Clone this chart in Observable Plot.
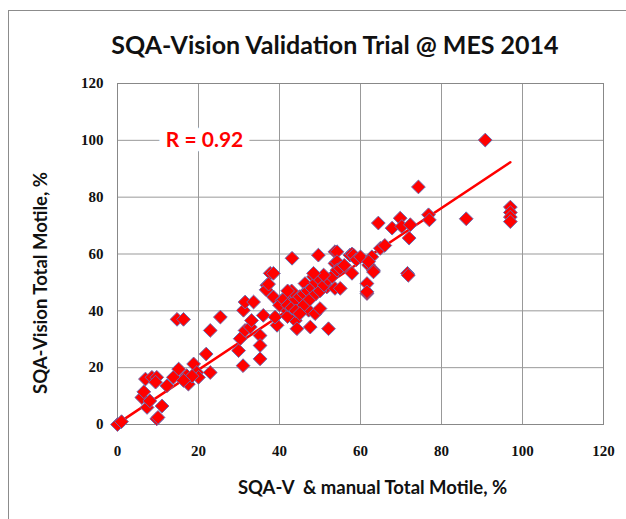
<!DOCTYPE html>
<html>
<head>
<meta charset="utf-8">
<script src="https://cdn.jsdelivr.net/npm/d3@7"></script>
<script src="https://cdn.jsdelivr.net/npm/@observablehq/plot@0.6"></script>
<style>
  html, body { margin: 0; padding: 0; background: #fff; }
  #wrap { position: relative; width: 626px; height: 519px; overflow: hidden; }
  #border { position: absolute; left: 8px; top: 10px; width: 700px; height: 600px; border: 1.5px solid #8c8c8c; box-sizing: border-box; }
  #title { position: absolute; left: 0; width: 670px; top: 29px; text-align: center; font-family: "Lato", "Open Sans", sans-serif; font-weight: bold; font-size: 25px; color: #111; }
  #chart { position: absolute; left: 0; top: 0; }
</style>
</head>
<body>
<div id="wrap">
  <div id="border"></div>
  <div id="title">SQA-Vision Validation Trial @ MES 2014</div>
  <div id="chart"></div>
</div>
<script>
// x: SQA-V & manual Total Motile, %   y: SQA-Vision Total Motile, %
const xs = [
  0, 1, 6.9, 8.5, 6, 7.3, 11, 12.2, 9.7, 9.4, 13.8, 15.1, 17.1, 17.5, 18.8, 19.6, 21.9, 22.9, 22.9, 25.4,
  14.7, 16.3, 9.7, 10, 8, 6.5, 20, 18.4, 16.3,
  29.9, 31, 30.3, 31.5, 32.8, 33.1, 31.1, 31.5, 33.6, 35.2, 35.2, 35.2, 36, 36.9, 36.7, 37.7, 38.5, 39.4, 38.9,
  40.6, 41.8, 43.1, 42.6, 43.9, 44.3, 45.1, 46.3, 47.2, 47.6, 48.4, 48.8, 49.6, 50, 51.7, 52.1, 53.7, 53.7, 53.7, 57.4,
  40, 41, 42, 42, 43, 44, 45, 46, 46, 47, 47.5, 48, 49, 49, 50, 50, 51, 52, 53, 44, 45, 43, 42, 38.5, 37.3, 50.9, 48.4,
  54.2, 54.2, 54.2, 57.9, 58.3, 57.9, 55, 56, 59, 60, 61.6, 61.6, 62, 62.8, 63.2, 63.2, 64.9, 64.4, 66, 67.8, 69.8,
  70.2, 72.3, 72, 71.6, 71.8, 74.3, 76.8, 77, 86.1, 90.8, 97, 97, 97, 97, 55, 62, 61.6
];
const ys = [
  0, 1, 16, 16.6, 9.5, 6, 6.5, 13.6, 16.6, 14.9, 16.6, 19.5, 17.2, 14.2, 21.3, 18.3, 24.8, 18.3, 33.1, 37.8,
  37, 37, 2, 2.5, 8.3, 11.5, 16.6, 17, 15.5,
  26, 20.7, 30.2, 33.1, 34.3, 36.6, 40.2, 43.1, 43.1, 31.3, 27.8, 23.1, 38.4, 49, 47.4, 53.2, 44.9, 34.9, 37.8,
  43.7, 40.2, 58.5, 45.5, 36.6, 33.7, 43.1, 49.6, 40.2, 34.3, 52, 39, 59.6, 40.8, 48.4, 33.7, 60.8, 56.7, 47.9, 59.6,
  42, 44, 38, 42, 41, 44, 45, 46, 42, 47, 44, 48, 46, 50, 51, 47, 49, 51, 52, 40, 39, 47, 47, 53.2, 49.4, 52.6, 53.2,
  60.8, 57.3, 54.3, 60, 59.6, 53.2, 55, 56, 58, 59, 49.6, 46.1, 56.1, 59, 54.3, 53.7, 62, 70.9, 63, 69.1, 72.6,
  69.7, 70.3, 65.6, 53.2, 52.5, 83.6, 73.8, 72, 72.4, 100.1, 76.5, 74.6, 73, 71.4, 47.9, 57.3, 46.7
];
// linear trend line as drawn in the reference (end points)
const trendX = [0, 97];
const trendY = [0.3, 92.3];
const xTicks = [0, 20, 40, 60, 80, 100, 120];
const yTicks = [0, 20, 40, 60, 80, 100, 120];
const rLabel = [{x: 21.5, y: 100, text: "R = 0.92"}];

const data = xs.map((x, i) => ({x, y: ys[i]}));
const trend = trendX.map((x, i) => ({x, y: trendY[i]}));

const chart = Plot.plot({
  width: 626,
  height: 519,
  marginLeft: 117,
  marginRight: 23,
  marginTop: 83,
  marginBottom: 95,
  style: {fontFamily: "'Liberation Serif', serif", background: "transparent", overflow: "visible"},
  x: {domain: [0, 120], ticks: xTicks},
  y: {domain: [0, 120], ticks: yTicks},
  marks: [
    Plot.gridX(xTicks, {stroke: "#999", strokeOpacity: 1, strokeWidth: 1}),
    Plot.gridY(yTicks, {stroke: "#999", strokeOpacity: 1, strokeWidth: 1}),
    Plot.frame({stroke: "#888", strokeWidth: 1}),
    Plot.axisX(xTicks, {tickSize: 0, tickPadding: 21, fontSize: 15, fontWeight: "bold", fill: "#111",
      label: "SQA-V  & manual Total Motile, %", labelAnchor: "center", labelOffset: 69}),
    Plot.axisY(yTicks, {tickSize: 0, tickPadding: 14, fontSize: 15, fontWeight: "bold", fill: "#111",
      label: "SQA-Vision Total Motile, %", labelAnchor: "center", labelOffset: 84}),
    Plot.text(rLabel, {x: "x", y: "y", text: "text", fill: "#ff0000", stroke: "white", strokeWidth: 16,
      fontSize: 21, fontWeight: "bold", fontFamily: "Lato, 'Open Sans', sans-serif"}),
    Plot.line(trend, {x: "x", y: "y", stroke: "#ff0000", strokeWidth: 2.5}),
    Plot.dot(data, {x: "x", y: "y", symbol: "diamond2", r: 6.2, fill: "#ff0000", stroke: "#6a6ab0", strokeWidth: 1, fillOpacity: 1})
  ]
});
// axis titles in sans, without arrows, positioned like the reference
const xl = chart.querySelector("g[aria-label='x-axis label'] text");
const yl = chart.querySelector("g[aria-label='y-axis label'] text");
if (xl) {
  xl.textContent = "SQA-V  & manual Total Motile, %";
  xl.setAttribute("dx", "12");
  xl.setAttribute("xml:space", "preserve");
  xl.style.whiteSpace = "pre";
}
if (yl) {
  yl.textContent = "SQA-Vision Total Motile, %";
  yl.setAttribute("dx", "-29");
}
[xl, yl].forEach(t => {
  if (!t) return;
  t.setAttribute("font-family", "Lato, 'Open Sans', sans-serif");
  t.setAttribute("font-size", "18.5");
  t.setAttribute("font-weight", "bold");
  t.setAttribute("fill", "#111");
});
document.getElementById("chart").appendChild(chart);
</script>
</body>
</html>
